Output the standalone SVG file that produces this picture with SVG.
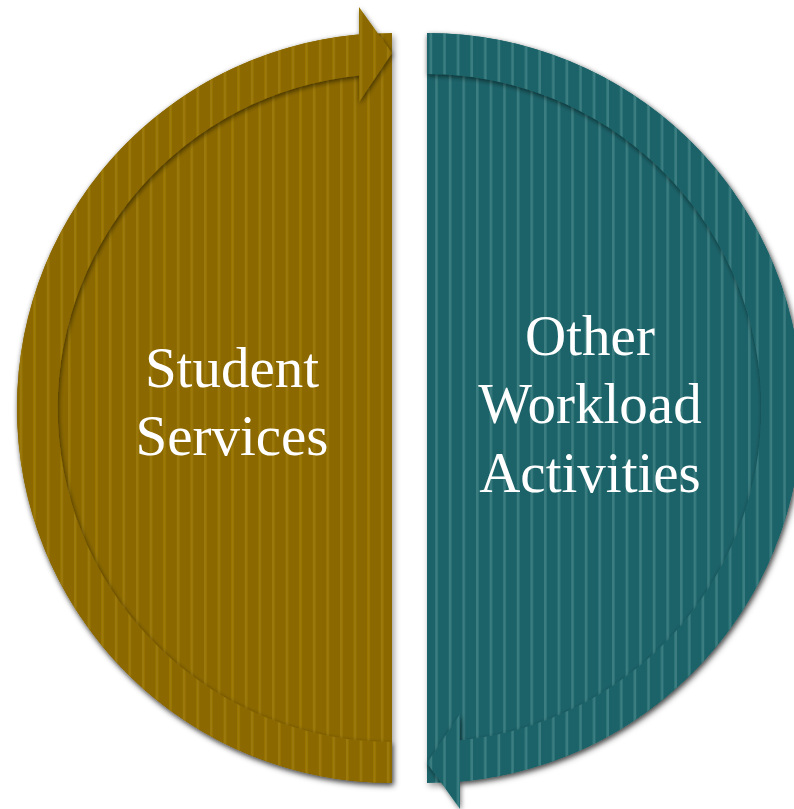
<svg xmlns="http://www.w3.org/2000/svg" xmlns:xlink="http://www.w3.org/1999/xlink" width="794" height="809" viewBox="0 0 794 809">
<style>
.lbl{font-family:"Liberation Serif","Times New Roman",serif;font-size:57px;fill:#ffffff;text-anchor:middle}
</style>
<defs>
<pattern id="pGold" width="13.6" height="20" patternUnits="userSpaceOnUse">
<rect width="13.6" height="20" fill="#8c6900"/>
<rect x="0" width="2.6" height="20" fill="#9c7908"/>
</pattern>
<pattern id="pGoldB" width="13.6" height="20" patternUnits="userSpaceOnUse" patternTransform="translate(6,0)">
<rect width="13.6" height="20" fill="#8c6900"/>
<rect x="0" width="2.6" height="20" fill="#9c7908"/>
</pattern>
<pattern id="pTeal" width="13.6" height="20" patternUnits="userSpaceOnUse">
<rect width="13.6" height="20" fill="#1b6469"/>
<rect x="0" width="2.6" height="20" fill="#3b7d81"/>
</pattern>
<pattern id="pTealB" width="13.6" height="20" patternUnits="userSpaceOnUse" patternTransform="translate(6,0)">
<rect width="13.6" height="20" fill="#1b6469"/>
<rect x="0" width="2.6" height="20" fill="#3b7d81"/>
</pattern>
<filter id="outerSh" x="-10%" y="-10%" width="120%" height="120%">
<feDropShadow dx="2" dy="3" stdDeviation="3" flood-color="#000" flood-opacity="0.4"/>
</filter>
<filter id="bandSh" x="-10%" y="-10%" width="120%" height="120%">
<feDropShadow dx="1" dy="2" stdDeviation="2.5" flood-color="#000" flood-opacity="0.55"/>
</filter>
<path id="band" d="M392,783 A375,375 0 0 1 359,34.45 L359,7 L392,53 L359,102 L359,75.6 A334,334 0 0 0 392,742 Z"/>
</defs>
<g id="student-services">
<g filter="url(#outerSh)">
<path d="M392,33 A375,375 0 0 0 392,783 Z" fill="url(#pGold)"/>
</g>
<g filter="url(#bandSh)">
<use xlink:href="#band" fill="url(#pGoldB)"/>
</g>
<text class="lbl" x="232" y="387">Student</text>
<text class="lbl" x="232" y="455">Services</text>
</g>
<g id="other-workload-activities">
<g filter="url(#outerSh)">
<path d="M427,33 A375,375 0 0 1 427,783 Z" fill="url(#pTeal)"/>
</g>
<g filter="url(#bandSh)">
<use xlink:href="#band" transform="rotate(180 409.5 408)" fill="url(#pTealB)"/>
</g>
<text class="lbl" x="590" y="355">Other</text>
<text class="lbl" x="590" y="423">Workload</text>
<text class="lbl" x="590" y="492">Activities</text>
</g>
<g id="connectors"/>
</svg>
